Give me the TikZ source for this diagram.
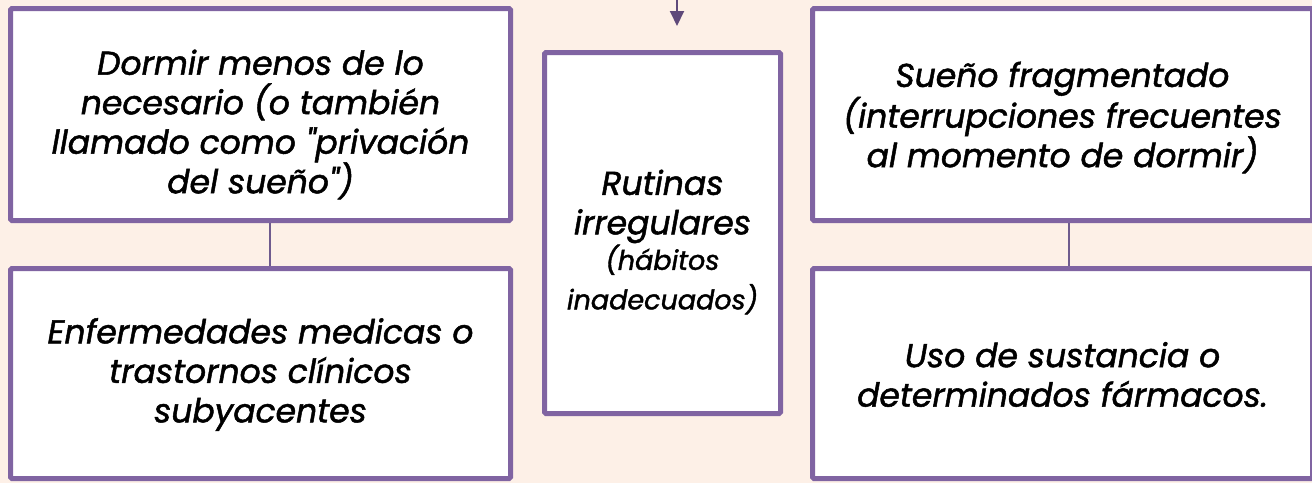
\documentclass[tikz,border=0pt]{standalone}
\usepackage{fontspec}
\setmainfont{Poppins}[ItalicFeatures = {FakeBold = 1.5}]
\usepackage{tikz}
\usetikzlibrary{arrows.meta}
\usetikzlibrary{positioning}
\definecolor{peach}{HTML}{FDF0E7}
\definecolor{lilac}{HTML}{8064A2}
\definecolor{plum}{HTML}{5F497A}
\definecolor{joint}{HTML}{6F5B8E}
\tikzset{causa/.style = {draw = lilac, fill = white, line width = 5pt, rounded corners = 1.5pt, inner sep = 0}}
\tikzset{texto/.style = {align = center, inner sep = 0, font = \itshape\fontsize{33}{39.5}\selectfont}}
\tikzset{enlace/.style = {draw = joint, line width = 2pt}}
\newcommand{\chico}{\fontsize{27}{35}\selectfont}

\begin{document}
\begin{tikzpicture}[x = 1pt, y = -1pt]
    \fill [peach] (0, 0) rectangle (1312, 483);
    \useasboundingbox (0, 0) rectangle (1312, 483);

    % cajas
    \node [causa, minimum width = 500, minimum height = 212] (falta) at (260.5, 114.5) {};
    \node [causa, minimum width = 500, minimum height = 210] (enferm) at (260.5, 373.5) {};
    \node [causa, minimum width = 236, minimum height = 361] (rutina) at (662.5, 233) {};
    \node [causa, minimum width = 500, minimum height = 212] (fragm) at (1062.5, 114.5) {};
    \node [causa, minimum width = 500, minimum height = 210] (farmaco) at (1062.5, 373.5) {};

    % textos
    \node [texto] (t-falta) at ([yshift = -10pt]falta.center)
      {Dormir menos de lo\\ necesario (o también\\ llamado como \textquotedbl privación\\ del sueño\textquotedbl)};
    \node [texto] (t-enferm) at ([yshift = -1pt]enferm.center)
      {Enfermedades medicas o\\ trastornos clínicos\\ subyacentes};
    \node [texto] (t-rutina) at ([yshift = -9pt]rutina.center)
      {Rutinas\\ irregulares\\[-4pt] \chico (hábitos\\ \chico inadecuados)};
    \node [texto] (t-fragm) at ([yshift = -3pt]fragm.center)
      {Sueño fragmentado\\ (interrupciones frecuentes\\ al momento de dormir)};
    \node [texto] (t-farmaco) at ([yshift = -1pt]farmaco.center)
      {Uso de sustancia o\\ determinados fármacos.};

    \draw [enlace] ([xshift = 9.5pt]falta.south) -- ([xshift = 9.5pt]enferm.north);
    \draw [enlace] ([xshift = 6.5pt]fragm.south) -- ([xshift = 6.5pt]farmaco.north);

    \coordinate (arriba) at (677, -2);
    \coordinate (punta) at (677, 26);
    \draw [plum, line width = 2pt, -{Triangle[width = 14pt, length = 15pt]}] (arriba) -- (punta);
  \end{tikzpicture}
\end{document}
